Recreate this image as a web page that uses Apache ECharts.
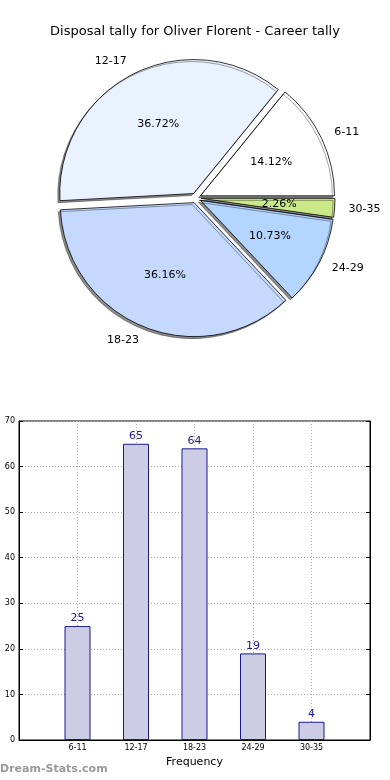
<!DOCTYPE html>
<html><head><meta charset="utf-8">
<script src="https://cdn.jsdelivr.net/npm/echarts@6/dist/echarts.min.js"></script>
<style>html,body{margin:0;padding:0;background:#fff}#c{width:390px;height:780px}</style>
</head><body><div id="c"></div>
<script>
var titleText = 'Disposal tally for Oliver Florent - Career tally';
var categories = ['6-11', '12-17', '18-23', '24-29', '30-35'];
var values = [25, 65, 64, 19, 4];
var sliceColors = ['#FFFFFF', '#EBF2FF', '#C5D9FF', '#B3D5FF', '#CCE98A'];
var yTicks = [0, 10, 20, 30, 40, 50, 60, 70];
var xAxisName = 'Frequency';
var watermark = 'Dream-Stats.com';

var total = values.reduce(function(a, b){ return a + b; }, 0);
var FONT = 'DejaVu Sans';
var R = 134;

var pieData = categories.map(function(c, i){
  return { name: c, value: values[i], selected: true,
    itemStyle: { color: sliceColors[i] } };
});
var pctData = categories.map(function(c, i){
  return { name: c, value: values[i] };
});

var chart = echarts.init(document.getElementById('c'), null, {renderer: 'canvas'});
chart.setOption({
  animation: false,
  backgroundColor: '#fff',
  title: {
    text: titleText, left: 'center', top: 20,
    textStyle: { fontFamily: FONT, fontSize: 13, fontWeight: 'normal', color: '#000' }
  },
  graphic: [{
    type: 'text', left: 0, top: 764,
    style: { text: watermark, fontFamily: FONT, fontSize: 11, fontWeight: 'bold', fill: '#999' }
  }],
  grid: {
    left: 19, top: 421, width: 351, height: 319,
    show: true, borderColor: '#000', borderWidth: 1, backgroundColor: 'transparent'
  },
  xAxis: {
    type: 'category',
    data: [''].concat(categories).concat(['']),
    boundaryGap: false,
    name: xAxisName, nameLocation: 'middle', nameGap: 17,
    nameTextStyle: { fontFamily: FONT, fontSize: 11, color: '#000' },
    axisLine: { lineStyle: { color: '#000', width: 1 } },
    axisTick: { inside: true, length: 4, lineStyle: { color: '#000' } },
    axisLabel: { fontFamily: FONT, fontSize: 8, color: '#000', margin: 4 },
    splitLine: { show: true, lineStyle: { color: '#b0b0b0', type: [1, 2], width: 1 } }
  },
  yAxis: [{
    type: 'value', min: 0, max: 70, interval: 10,
    axisLine: { show: true, lineStyle: { color: '#000' } },
    axisTick: { show: true, inside: true, length: 4, lineStyle: { color: '#000' } },
    axisLabel: { fontFamily: FONT, fontSize: 8, color: '#000', margin: 4,
      formatter: function(v){ return yTicks.indexOf(v) >= 0 ? String(v) : ''; } },
    splitLine: { show: true, lineStyle: { color: '#b0b0b0', type: [1, 2], width: 1 } }
  }, {
    type: 'value', min: 0, max: 70, interval: 10, position: 'right',
    axisLine: { show: true, lineStyle: { color: '#000' } },
    axisTick: { show: true, inside: true, length: 4, lineStyle: { color: '#000' } },
    axisLabel: { show: false }, splitLine: { show: false }
  }],
  series: [{
    type: 'pie',
    center: [196, 198],
    radius: [0, R],
    startAngle: 0,
    clockwise: false,
    selectedMode: 'multiple',
    selectedOffset: 5,
    avoidLabelOverlap: false,
    emphasis: { scale: false },
    itemStyle: {
      borderColor: '#000', borderWidth: 0.8,
      shadowColor: 'rgba(0,0,0,0.45)', shadowBlur: 0, shadowOffsetX: -2, shadowOffsetY: 2
    },
    select: { itemStyle: { borderColor: '#000', borderWidth: 0.8 } },
    label: {
      show: true, position: 'outside', formatter: '{b}', distanceToLabelLine: 0,
      fontFamily: FONT, fontSize: 11, color: '#000'
    },
    labelLine: { show: false, length: 14, length2: 0 },
    data: pieData,
    z: 2
  }, {
    type: 'pie',
    center: [196, 198],
    radius: [0, R * 1.2],
    startAngle: 0,
    clockwise: false,
    silent: true,
    avoidLabelOverlap: false,
    itemStyle: { color: 'rgba(0,0,0,0)', borderWidth: 0 },
    label: {
      show: true, position: 'inside',
      formatter: function(p){ return (p.value / total * 100).toFixed(2) + '%'; },
      fontFamily: FONT, fontSize: 11, color: '#000'
    },
    labelLine: { show: false },
    data: pctData,
    z: 5
  }, {
    type: 'bar',
    xAxisIndex: 0, yAxisIndex: 0,
    data: ['-'].concat(values).concat(['-']),
    barWidth: 26,
    itemStyle: { color: '#CCCCE5', borderColor: '#1A1A8C', borderWidth: 1 },
    label: { show: true, position: 'top', distance: 2, color: '#1A1A8C',
      fontFamily: FONT, fontSize: 11 },
    z: 3
  }]
});
</script>
</body></html>
